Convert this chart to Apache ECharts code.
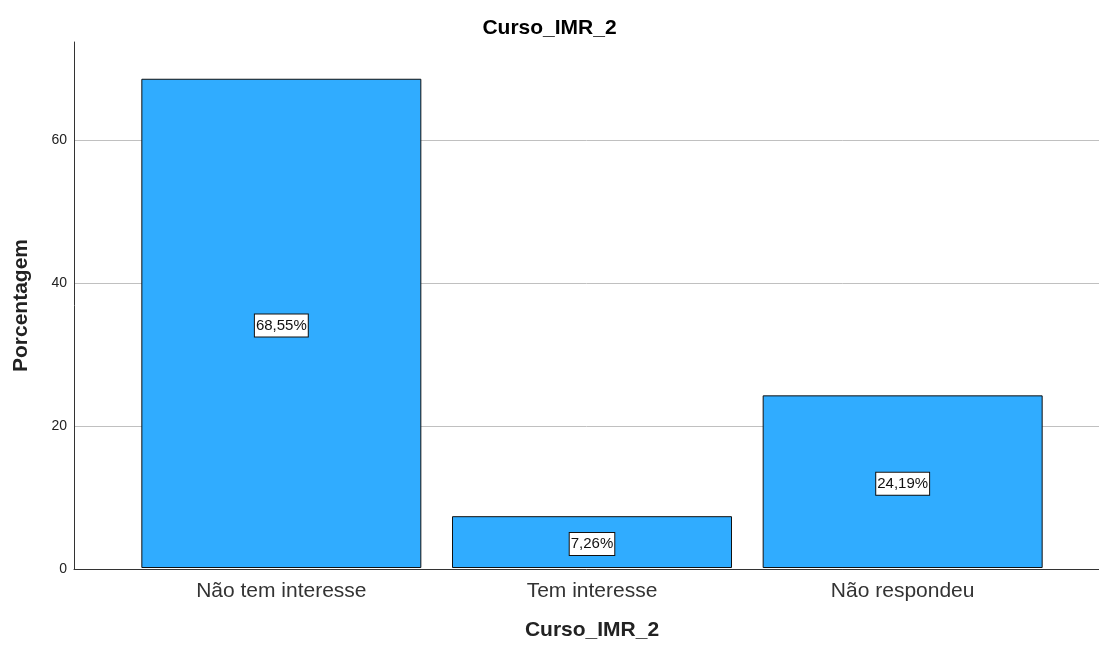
<!DOCTYPE html>
<html>
<head>
<meta charset="utf-8">
<script src="https://cdn.jsdelivr.net/npm/echarts@6/dist/echarts.min.js"></script>
<style>html,body{margin:0;padding:0;background:#fff}#chart{width:1099px;height:646px}</style>
</head>
<body>
<div id="chart"></div>
<script>
// Curso_IMR_2 bar chart
var categories = ['Não tem interesse', 'Tem interesse', 'Não respondeu'];
var percentages = [68.55, 7.26, 24.19];
var yTicks = [0, 20, 40, 60];

var yMax = 73.7;
var font = 'Arial, Liberation Sans';
var myChart = echarts.init(document.getElementById('chart'));

var option = {
  backgroundColor: '#fff',
  animation: false,
  title: {
    text: 'Curso_IMR_2',
    left: 'center',
    top: 13,
    textStyle: { fontFamily: font, fontSize: 21, fontWeight: 'bold', color: '#000' }
  },
  grid: [
    { left: 74, right: 0, top: 42, bottom: 77 },
    { left: 126, right: 41, top: 42, bottom: 77 }
  ],
  xAxis: [
    {
      type: 'value', gridIndex: 0, min: 0, max: 1,
      axisLine: { show: true, lineStyle: { color: '#333', width: 1 } },
      axisTick: { show: false }, axisLabel: { show: false }, splitLine: { show: false }
    },
    {
      type: 'category', gridIndex: 1, data: categories,
      axisLine: { show: false }, axisTick: { show: false },
      axisLabel: { fontFamily: font, fontSize: 21, color: '#333', margin: 13 },
      name: 'Curso_IMR_2', nameLocation: 'middle', nameGap: 52,
      nameTextStyle: { fontFamily: font, fontSize: 21, fontWeight: 'bold', color: '#222' }
    }
  ],
  yAxis: [
    {
      type: 'value', gridIndex: 0, min: 0, max: yMax, interval: 20,
      axisLine: { show: true, lineStyle: { color: '#333', width: 1 } },
      axisTick: { show: false },
      axisLabel: {
        fontFamily: font, fontSize: 14, color: '#222', margin: 7,
        formatter: function (v) { return yTicks.indexOf(v) >= 0 ? String(v) : ''; }
      },
      splitLine: { show: true, showMaxLine: false, lineStyle: { color: '#c0c0c0', width: 1 } },
      name: 'Porcentagem', nameLocation: 'middle', nameGap: 42,
      nameTextStyle: { fontFamily: font, fontSize: 21, fontWeight: 'bold', color: '#222' }
    },
    {
      type: 'value', gridIndex: 1, min: 0, max: yMax, show: false, splitLine: { show: false }
    }
  ],
  series: [
    {
      type: 'bar', xAxisIndex: 1, yAxisIndex: 1,
      data: percentages,
      barWidth: 280,
      itemStyle: { color: '#30acff', borderColor: '#111', borderWidth: 1 },
      label: {
        show: true, position: 'inside', offset: [0, 2],
        formatter: function (p) { return p.value.toFixed(2).replace('.', ',') + '%'; },
        fontFamily: font, fontSize: 15, color: '#111',
        backgroundColor: '#fff', borderColor: '#111', borderWidth: 1, padding: [4, 1, 3, 1]
      }
    }
  ]
};

myChart.setOption(option);
</script>
</body>
</html>
